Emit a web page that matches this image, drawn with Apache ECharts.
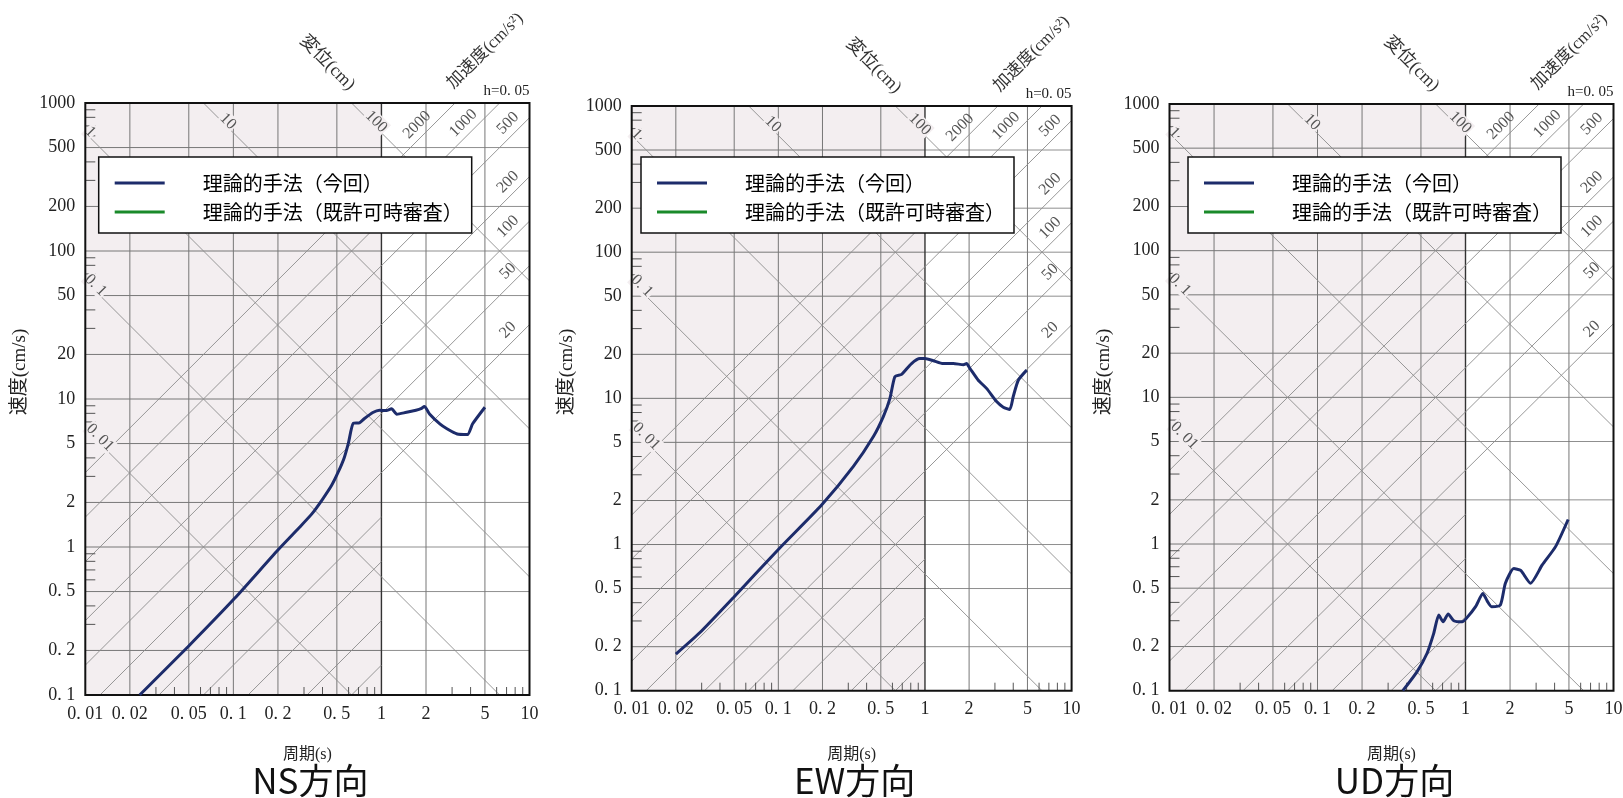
<!DOCTYPE html>
<html><head><meta charset="utf-8">
<script src="https://cdn.jsdelivr.net/npm/echarts@6/dist/echarts.min.js"></script>
<style>html,body{margin:0;padding:0;background:#fff}#c{width:1623px;height:798px}</style>
</head><body><div id="c"></div>
<script>
// ---------------- data ----------------
const panelTitles = ['NS方向', 'EW方向', 'UD方向'];
const seriesNames = ['理論的手法（今回）', '理論的手法（既許可時審査）'];

const periodNS = [0.0233, 0.0494, 0.102, 0.2, 0.28, 0.34, 0.40, 0.46, 0.51, 0.56, 0.6, 0.645, 0.71, 0.765, 0.875, 0.97, 1.08, 1.17, 1.27, 1.45, 1.71, 1.85, 1.95, 2.12, 2.48, 2.77, 3.25, 3.81, 4.13, 5.0];
const velNS    = [0.1, 0.212, 0.45, 0.955, 1.36, 1.68, 2.1, 2.6, 3.2, 4.0, 5.1, 6.85, 6.9, 7.35, 8.1, 8.4, 8.35, 8.6, 7.9, 8.1, 8.4, 8.6, 8.9, 7.9, 6.8, 6.3, 5.8, 5.75, 6.8, 8.8];

const periodEW = [0.02, 0.0292, 0.0493, 0.1, 0.198, 0.325, 0.445, 0.52, 0.577, 0.624, 0.693, 0.81, 0.924, 1.0, 1.14, 1.33, 1.56, 1.83, 1.92, 2.03, 2.31, 2.63, 3.08, 3.42, 3.79, 4.0, 4.33, 4.94];
const velEW    = [0.178, 0.25, 0.433, 0.925, 1.87, 3.42, 5.48, 7.5, 10, 14.1, 14.6, 17.3, 18.7, 18.7, 18.1, 17.3, 17.3, 17.0, 17.3, 16.0, 13.3, 11.7, 9.5, 8.7, 8.4, 10.3, 13.3, 15.6];

const periodUD = [0.377, 0.471, 0.55, 0.61, 0.66, 0.706, 0.764, 0.834, 0.95, 1.01, 1.17, 1.31, 1.40, 1.5, 1.72, 1.86, 2.12, 2.36, 2.75, 3.3, 4.06, 4.94];
const velUD    = [0.1, 0.135, 0.18, 0.246, 0.328, 0.295, 0.333, 0.30, 0.295, 0.31, 0.374, 0.46, 0.41, 0.374, 0.384, 0.54, 0.68, 0.66, 0.54, 0.72, 0.96, 1.47];

const xTickValues = [0.01, 0.02, 0.05, 0.1, 0.2, 0.5, 1, 2, 5, 10];
const xTickLabels = ['0. 01', '0. 02', '0. 05', '0. 1', '0. 2', '0. 5', '1', '2', '5', '10'];
const yTickValues = [0.1, 0.2, 0.5, 1, 2, 5, 10, 20, 50, 100, 200, 500, 1000];
const yTickLabels = ['0. 1', '0. 2', '0. 5', '1', '2', '5', '10', '20', '50', '100', '200', '500', '1000'];
const minorMultiples = [3, 4, 6, 7, 8, 9];

const dispValues = [0.01, 0.1, 1, 10, 100];          // displacement lines (cm)
const dispLabels = ['0. 01', '0. 1', '1', '10', '100'];
const accValues = [1, 2, 5, 10, 20, 50, 100, 200, 500, 1000, 2000]; // acceleration lines (cm/s2)
const accLabelValues = [20, 50, 100, 200, 500, 1000, 2000];
const accLabels = ['20', '50', '100', '200', '500', '1000', '2000'];

// ---------------- layout ----------------
const panels = [
  { l: 85.3,  t: 103, r: 529.5,  b: 695,   legendLeft: 98.7 },
  { l: 631.7, t: 106, r: 1071.6, b: 690.7, legendLeft: 641 },
  { l: 1169.5,t: 104, r: 1613.5, b: 690.7, legendLeft: 1188 }
];
const TWO_PI = 2 * Math.PI;
const T_MIN = 0.01, T_MAX = 10, V_MIN = 0.1, V_MAX = 1000;
const shadeUntil = 1;      // shaded graph-paper part ends at T = 1 s
const accCutoff = 20;      // acceleration lines below this value stop at T = 1 s
const dispLabelT = { 0.01: 0.012, 0.1: 0.0112, 1: 0.0103, 10: 0.0877, 100: 0.88 };
const accLabelT = { 20: 8.1, 50: 8.1, 100: 8.1, 200: 8.1, 500: 8.1, 1000: 4.05, 2000: 1.97 };

const SERIF = '"Liberation Serif","Noto Sans CJK JP"';
const SHADE = '#f3eef0';

function txt(x, y, text, font, fill, align, valign, rotation, extra) {
  const st = Object.assign({ text: text, font: font, fill: fill,
    align: align, verticalAlign: valign, textAlign: align, textVerticalAlign: valign }, extra || {});
  return { type: 'text', x: x, y: y, rotation: rotation || 0, style: st, silent: true };
}
function seg(a, b, stroke, w) {
  return { type: 'line', silent: true, shape: { x1: a[0], y1: a[1], x2: b[0], y2: b[1] }, style: { stroke: stroke, lineWidth: w } };
}

function bgRender(params, api) {
  const c = (t, v) => api.coord([t, v]);
  const ch = [];
  const tl = c(T_MIN, V_MAX), br = c(T_MAX, V_MIN), sh = c(shadeUntil, V_MIN);
  ch.push({ type: 'rect', silent: true, shape: { x: tl[0], y: tl[1], width: sh[0] - tl[0], height: sh[1] - tl[1] }, style: { fill: SHADE } });
  // horizontal grid
  yTickValues.forEach(v => {
    if (v === V_MIN || v === V_MAX) return;
    ch.push(seg(c(T_MIN, v), c(shadeUntil, v), '#777', 1));
    ch.push(seg(c(shadeUntil, v), c(T_MAX, v), '#8f8f8f', 1));
  });
  // vertical grid
  xTickValues.forEach(t => {
    if (t === T_MIN || t === T_MAX) return;
    ch.push(seg(c(t, V_MIN), c(t, V_MAX), t === shadeUntil ? '#333' : '#777', t === shadeUntil ? 1.4 : 1));
  });
  // displacement lines
  dispValues.forEach(D => {
    const t1 = Math.max(T_MIN, TWO_PI * D / V_MAX), t2 = Math.min(T_MAX, TWO_PI * D / V_MIN);
    if (t1 < t2) ch.push(seg(c(t1, TWO_PI * D / t1), c(t2, TWO_PI * D / t2), '#8c8c8c', 0.9));
  });
  // acceleration lines
  accValues.forEach(A => {
    const t1 = Math.max(T_MIN, TWO_PI * V_MIN / A);
    let t2 = Math.min(T_MAX, TWO_PI * V_MAX / A);
    if (A < accCutoff) t2 = Math.min(t2, shadeUntil);
    if (t1 < t2) ch.push(seg(c(t1, A * t1 / TWO_PI), c(t2, A * t2 / TWO_PI), '#8c8c8c', 0.9));
  });
  // minor ticks (inside)
  [0.1, 1, 10, 100].forEach(dec => minorMultiples.forEach(m => {
    const p = c(T_MIN, dec * m);
    ch.push(seg(p, [p[0] + 10, p[1]], '#555', 1));
  }));
  [0.01, 0.1, 1].forEach(dec => minorMultiples.forEach(m => {
    const p = c(dec * m, V_MIN);
    ch.push(seg(p, [p[0], p[1] - 8], '#555', 1));
  }));
  // diagonal labels
  dispValues.forEach((D, k) => {
    const t = dispLabelT[D];
    const p = c(t, TWO_PI * D / t);
    ch.push(txt(p[0] + 3, p[1] - 3, dispLabels[k], '16px ' + SERIF, '#555', 'center', 'middle', -Math.PI / 4,
      { backgroundColor: SHADE, padding: [0, 1] }));
  });
  accLabelValues.forEach((A, k) => {
    const t = accLabelT[A];
    const p = c(t, A * t / TWO_PI);
    ch.push(txt(p[0] - 8, p[1] - 8, accLabels[k], '16px ' + SERIF, '#555', 'center', 'middle', Math.PI / 4));
  });
  // frame
  ch.push({ type: 'rect', silent: true, shape: { x: tl[0], y: tl[1], width: br[0] - tl[0], height: br[1] - tl[1] },
    style: { fill: 'none', stroke: '#111', lineWidth: 2 } });
  // tick labels
  xTickValues.forEach((t, k) => {
    const p = c(t, V_MIN);
    ch.push(txt(p[0], p[1] + 19, xTickLabels[k], '18px ' + SERIF, '#222', 'center', 'middle'));
  });
  yTickValues.forEach((v, k) => {
    const p = c(T_MIN, v);
    ch.push(txt(p[0] - 10, p[1], yTickLabels[k], '18px ' + SERIF, '#222', 'right', 'middle'));
  });
  return { type: 'group', children: ch };
}

const curves = [[periodNS, velNS], [periodEW, velEW], [periodUD, velUD]];
const series = [];
panels.forEach((p, i) => {
  series.push({ type: 'custom', coordinateSystem: 'cartesian2d', xAxisIndex: i, yAxisIndex: i,
    data: [[1, 1]], renderItem: bgRender, silent: true, z: 1, clip: false });
  series.push({ type: 'line', name: seriesNames[0], xAxisIndex: i, yAxisIndex: i, z: 5,
    data: curves[i][0].map((t, j) => [t, curves[i][1][j]]),
    symbol: 'none', smooth: 0.2, lineStyle: { color: '#1d2c6b', width: 3 }, itemStyle: { color: '#1d2c6b' } });
  series.push({ type: 'line', name: seriesNames[1], xAxisIndex: i, yAxisIndex: i, z: 4,
    data: [], symbol: 'none', lineStyle: { color: '#1a8a2a', width: 3 }, itemStyle: { color: '#1a8a2a' } });
});

const graphic = [];
panels.forEach((p, i) => {
  const cx = (p.l + p.r) / 2;
  graphic.push(txt(cx, 755, '周期(s)', '16px ' + SERIF, '#222', 'center', 'middle'));
  graphic.push(txt(cx + 3, 781, panelTitles[i], '35px "Noto Sans CJK JP"', '#111', 'center', 'middle'));
  graphic.push(txt(p.l - 65, 372, '速度(cm/s)', '19px ' + SERIF, '#222', 'center', 'middle', Math.PI / 2));
  graphic.push(txt(p.l + 242, p.t - 40, '変位(cm)', '18px ' + SERIF, '#333', 'center', 'middle', -Math.PI / 4));
  graphic.push(txt(p.l + 400, p.t - 52, '加速度(cm/s²)', '17px ' + SERIF, '#333', 'center', 'middle', Math.PI / 4));
  graphic.push(txt(p.r, p.t - 12, 'h=0. 05', '15px ' + SERIF, '#222', 'right', 'middle'));
});

const option = {
  animation: false,
  backgroundColor: '#fff',
  grid: panels.map(p => ({ left: p.l, top: p.t, width: p.r - p.l, height: p.b - p.t, show: false })),
  xAxis: panels.map((p, i) => ({ type: 'log', logBase: 10, min: T_MIN, max: T_MAX, gridIndex: i,
    axisLine: { show: false }, axisTick: { show: false }, axisLabel: { show: false }, splitLine: { show: false } })),
  yAxis: panels.map((p, i) => ({ type: 'log', logBase: 10, min: V_MIN, max: V_MAX, gridIndex: i,
    axisLine: { show: false }, axisTick: { show: false }, axisLabel: { show: false }, splitLine: { show: false } })),
  legend: panels.map(p => ({
    data: seriesNames, orient: 'vertical', left: p.legendLeft, top: 157,
    icon: 'rect', itemWidth: 50, itemHeight: 3, itemGap: 9,
    backgroundColor: '#fff', borderColor: '#111', borderWidth: 1.5, borderRadius: 0,
    padding: [16, 9, 11, 16], selectedMode: false, z: 20,
    textStyle: { fontSize: 20, fontFamily: 'Noto Sans CJK JP', color: '#000', padding: [0, 0, 0, 33] }
  })),
  series: series,
  graphic: graphic
};
const chart = echarts.init(document.getElementById('c'), null, { renderer: 'canvas' });
chart.setOption(option);
</script></body></html>
